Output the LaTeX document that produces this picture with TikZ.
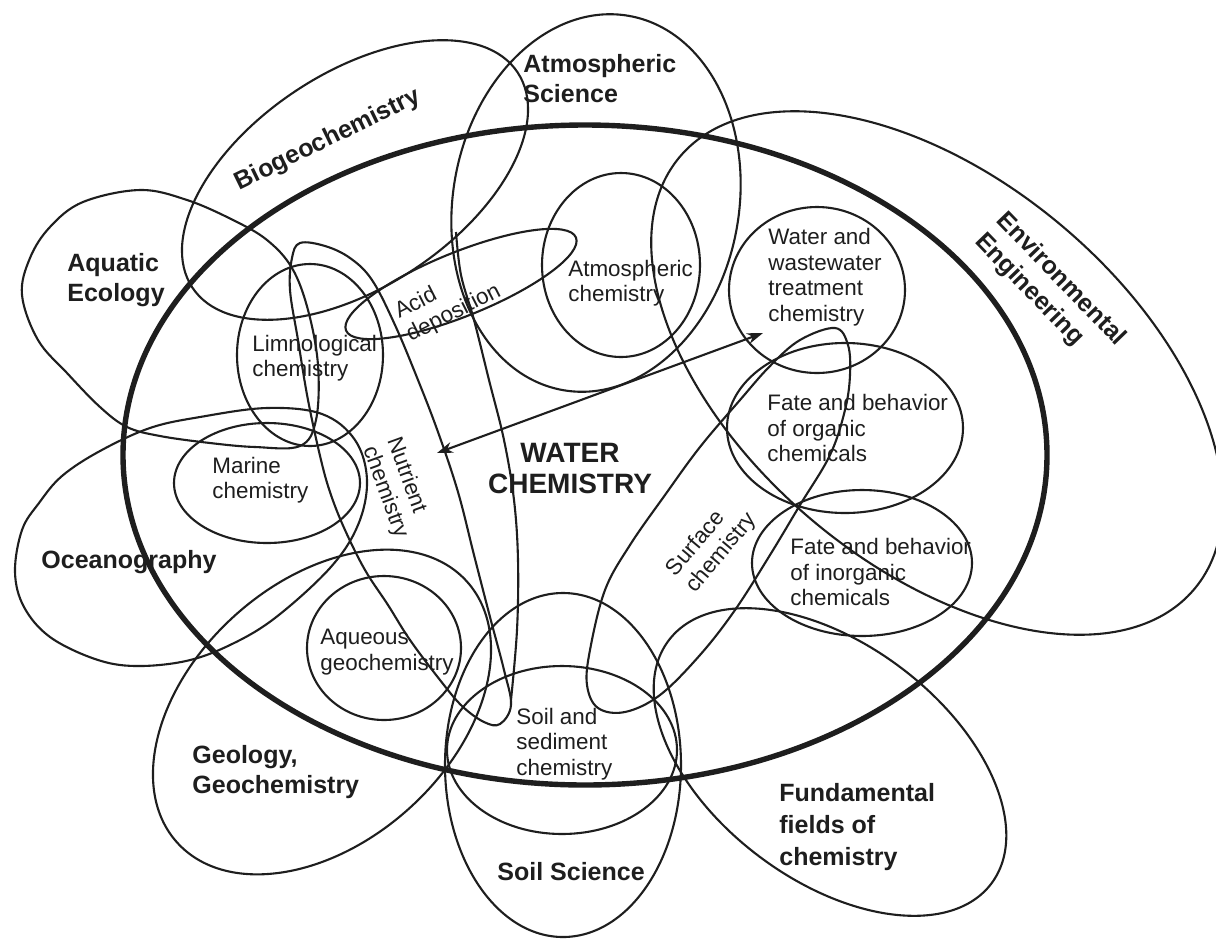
\documentclass[tikz,border=0pt]{standalone}
\usepackage{fontspec}
\setmainfont{Liberation Sans}
\usetikzlibrary{arrows.meta}
\definecolor{ink}{HTML}{1E1E1E}
\begin{document}
\begin{tikzpicture}[x=0.5pt,y=-0.5pt,
  ring/.style={draw=ink,line width=1.05pt},
  mainring/.style={draw=ink,line width=2.7pt},
  biglab/.style={font=\fontsize{12.5}{15}\selectfont\bfseries,text=ink,inner sep=0pt,align=left},
  smalllab/.style={font=\fontsize{11.2}{12.8}\selectfont,text=ink,inner sep=0pt,align=left},
  titlelab/.style={font=\fontsize{14}{15.5}\selectfont\bfseries,text=ink,inner sep=0pt,align=center},
  dblarrow/.style={draw=ink,line width=1.05pt,{Stealth[length=8pt,width=5.5pt]}-{Stealth[length=8pt,width=5.5pt]}}
]
\useasboundingbox (0,0) rectangle (1216,944);
\fill[white] (0,0) rectangle (1216,944);

% ---- outer discipline loops ----
% Atmospheric Science
\draw[ring, rotate around={-10:(596,203)}] (596,203) ellipse (143 and 190);
% Biogeochemistry
\draw[ring, rotate around={33.5:(355,180)}] (355,180) ellipse (195 and 107);
% Aquatic Ecology
\draw[ring] plot[smooth cycle, tension=0.6] coordinates {
  (22,295) (30,258) (50,227) (83,202) (140,190) (187,200) (233,220) (267,240)
  (292,268) (308,310) (318,365) (316,420) (300,446) (255,447) (210,443)
  (160,436) (127,427) (100,407) (67,373) (38,340)};
% Oceanography
\draw[ring] plot[smooth cycle, tension=0.6] coordinates {
  (15,572) (22,530) (39,503) (62,476) (100,451) (150,428) (200,417) (267,408)
  (322,414) (355,440) (367,480) (358,525) (330,568) (275,618) (230,645)
  (186,661) (135,666) (95,659) (50,637) (24,607)};
% Geology, Geochemistry
\draw[ring, rotate around={42:(322,712)}] (322,712) ellipse (195 and 130);
% Soil Science
\draw[ring] (563,765) ellipse (118 and 172);
% Fundamental fields of chemistry
\draw[ring, rotate around={-37:(830,762)}] (830,762) ellipse (202 and 118);
% Environmental Engineering
\draw[ring, rotate around={-40:(937,373)}] (937,373) ellipse (336 and 193);

% ---- inner topic loops ----
% Acid deposition
\draw[ring, rotate around={22:(461,284)}] (461,284) ellipse (124 and 32);
% Atmospheric chemistry
\draw[ring] (621,265) ellipse (79 and 92);
% Water and wastewater treatment chemistry
\draw[ring] (817,290) ellipse (88 and 83);
% Limnological chemistry
\draw[ring] (310,355) ellipse (73 and 91);
% Marine chemistry
\draw[ring] (267,483) ellipse (93 and 60);
% Fate and behavior of organic chemicals
\draw[ring] (845,428) ellipse (118 and 85);
% Fate and behavior of inorganic chemicals
\draw[ring] (862,563) ellipse (110 and 73);
% Aqueous geochemistry
\draw[ring] (384,648) ellipse (77 and 72);
% Soil and sediment chemistry
\draw[ring] (562,750) ellipse (115 and 84);
% Nutrient chemistry loop
\draw[ring] plot[smooth cycle, tension=0.6] coordinates {
  (300,243) (325,246) (350,258) (372,280) (395,325) (418,380) (438,432)
  (458,492) (474,555) (490,617) (504,670) (511,705) (500,724) (484,722)
  (462,706) (440,680) (410,640) (388,605) (365,570) (345,530) (331,495)
  (321,460) (308,400) (298,340) (290,290) (292,258)};
\draw[ring] plot[smooth, tension=0.6] coordinates {
  (456,232) (461,275) (474,320) (489,380) (504,440) (514,500) (518,560)
  (517,630) (511,700)};
% Surface chemistry loop
\draw[ring] plot[smooth cycle, tension=0.6] coordinates {
  (835,328) (848,345) (850,375) (845,410) (830,455) (800,505) (770,555)
  (735,610) (700,655) (660,695) (625,712) (598,708) (587,685) (590,650)
  (605,590) (630,545) (665,495) (700,447) (740,400) (770,366) (800,340)};

% ---- water chemistry ring ----
\draw[mainring] (585,455) ellipse (462 and 330);

% ---- arrow ----
\coordinate (arrL) at (437,453);
\coordinate (arrR) at (763,333);
\draw[dblarrow] (arrL) -- (arrR);

% ---- labels ----
\node[biglab, anchor=west] (atmsci) at (523,79) {Atmospheric\\Science};
\node[biglab, rotate=26] (biogeo) at (328,140) {Biogeochemistry};
\node[biglab, anchor=west] (aquatic) at (67,280) {Aquatic\\Ecology};
\node[biglab, rotate=-46] (enveng) at (1050,290) {Environmental\\Engineering};
\node[biglab, anchor=west] (ocean) at (41,562) {Oceanography};
\node[biglab, anchor=west] (geology) at (192,772) {Geology,\\Geochemistry};
\node[biglab, anchor=west] (soilsci) at (497,872) {Soil Science};
\node[biglab, anchor=west, font=\fontsize{12.5}{16}\selectfont\bfseries] (fund) at (779,827) {Fundamental\\fields of\\chemistry};
\node[titlelab] (water) at (570,468) {WATER\\CHEMISTRY};

\node[smalllab, anchor=west] (atmchem) at (568,283) {Atmospheric\\chemistry};
\node[smalllab, anchor=west] (wwt) at (768,277) {Water and\\wastewater\\treatment\\chemistry};
\node[smalllab, rotate=27] (acid) at (448,302) {Acid\\deposition};
\node[smalllab, anchor=west] (limno) at (252,358) {Limnological\\chemistry};
\node[smalllab, anchor=west] (marine) at (212,480) {Marine\\chemistry};
\node[smalllab, rotate=-70] (nutri) at (397,488) {Nutrient\\chemistry};
\node[smalllab, anchor=west] (fateorg) at (767,428) {Fate and behavior\\of organic\\chemicals};
\node[smalllab, anchor=west] (fateinorg) at (790,572) {Fate and behavior\\of inorganic\\chemicals};
\node[smalllab, rotate=50] (surface) at (712,545) {Surface\\chemistry};
\node[smalllab, anchor=west] (aqueous) at (320,652) {Aqueous\\geochemistry};
\node[smalllab, anchor=west] (soilsed) at (516,744) {Soil and\\sediment\\chemistry};
\end{tikzpicture}
\end{document}
